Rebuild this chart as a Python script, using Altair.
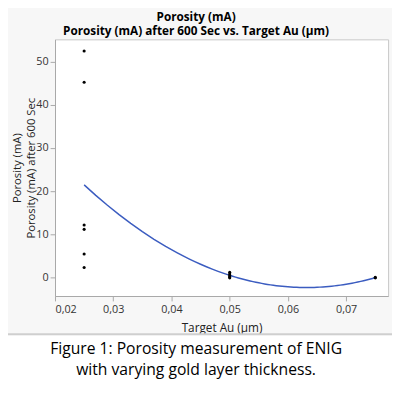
import altair as alt
import pandas as pd

# Data
target_au = [0.025, 0.025, 0.025, 0.025, 0.025, 0.025,
             0.05, 0.05, 0.05, 0.05, 0.05,
             0.075, 0.075]
porosity = [52.4, 45.2, 12.2, 11.2, 5.5, 2.4,
            1.3, 0.9, 0.5, 0.2, 0.0,
            0.1, 0.0]
x_ticks = [0.02, 0.03, 0.04, 0.05, 0.06, 0.07]
y_ticks = [0, 10, 20, 30, 40, 50]
title_lines = ["Porosity (mA)", "Porosity (mA) after 600 Sec vs. Target Au (µm)"]
y_title = ["Porosity (mA)", "Porosity (mA) after 600 Sec"]
x_title = "Target Au (µm)"
caption_1 = "Figure 1: Porosity measurement of ENIG"
caption_2 = "with varying gold layer thickness."

df = pd.DataFrame({"au": target_au, "por": porosity})

FONT = "Open Sans"
W, H = 340, 262

xenc = alt.X("au:Q", title=x_title,
             scale=alt.Scale(domain=[0.02, 0.0772], nice=False, zero=False),
             axis=alt.Axis(values=x_ticks,
                           labelExpr="replace(format(datum.value, '.2f'), '.', ',')",
                           grid=False, tickSize=5, labelPadding=3,
                           titlePadding=8))
yenc = alt.Y("por:Q", title=y_title,
             scale=alt.Scale(domain=[-4.2, 55.1], nice=False, zero=False),
             axis=alt.Axis(values=y_ticks, grid=False, tickSize=5, labelPadding=2,
                           titlePadding=-1, titleLineHeight=15, titleFontSize=11.5))

points = alt.Chart(df).mark_circle(size=10, color="black", opacity=1).encode(x=xenc, y=yenc)

fit = alt.Chart(df).transform_regression(
    "au", "por", method="poly", order=2
).mark_line(color="#3b5cc0", strokeWidth=1.5).encode(x="au:Q", y="por:Q")

one = pd.DataFrame({"k": [0]})
panel = alt.Chart(one).mark_rect(color="white").encode(
    x=alt.value(-70), x2=alt.value(W + 20), y=alt.value(302), y2=alt.value(400))
sep = alt.Chart(one).mark_rule(color="#cfcfcf", strokeWidth=2).encode(
    x=alt.value(-70), x2=alt.value(W + 20), y=alt.value(301))
cap1 = alt.Chart(one).mark_text(
    text=caption_1, font=FONT, fontSize=16, color="black", align="center",
    baseline="middle").encode(x=alt.value(200 - 56), y=alt.value(352 - 36))
cap2 = alt.Chart(one).mark_text(
    text=caption_2, font=FONT, fontSize=16, color="black", align="center",
    baseline="middle").encode(x=alt.value(200 - 56), y=alt.value(374 - 36))

chart = alt.layer(panel, sep, fit, points, cap1, cap2).properties(
    width=W, height=H,
    autosize=alt.AutoSizeParams(type="none"),
    padding={"left": 48, "top": 28, "right": 4, "bottom": 95},
    title=alt.TitleParams(text=title_lines, anchor="middle", dx=-26, offset=1,
                          font=FONT, fontSize=12, fontWeight="bold",
                          color="black", lineHeight=15),
).configure(
    background="#f7f7f7", font=FONT
).configure_view(
    fill="white", stroke="#c8c8c8", strokeWidth=1
).configure_axis(
    labelFont=FONT, titleFont=FONT, labelFontSize=11, titleFontSize=12,
    labelColor="#333333", titleColor="#222222", titleFontWeight="normal",
    domainColor="#a8a8a8", tickColor="#a8a8a8"
)

chart.save("out.html", embed_options={"renderer": "svg", "actions": False})
